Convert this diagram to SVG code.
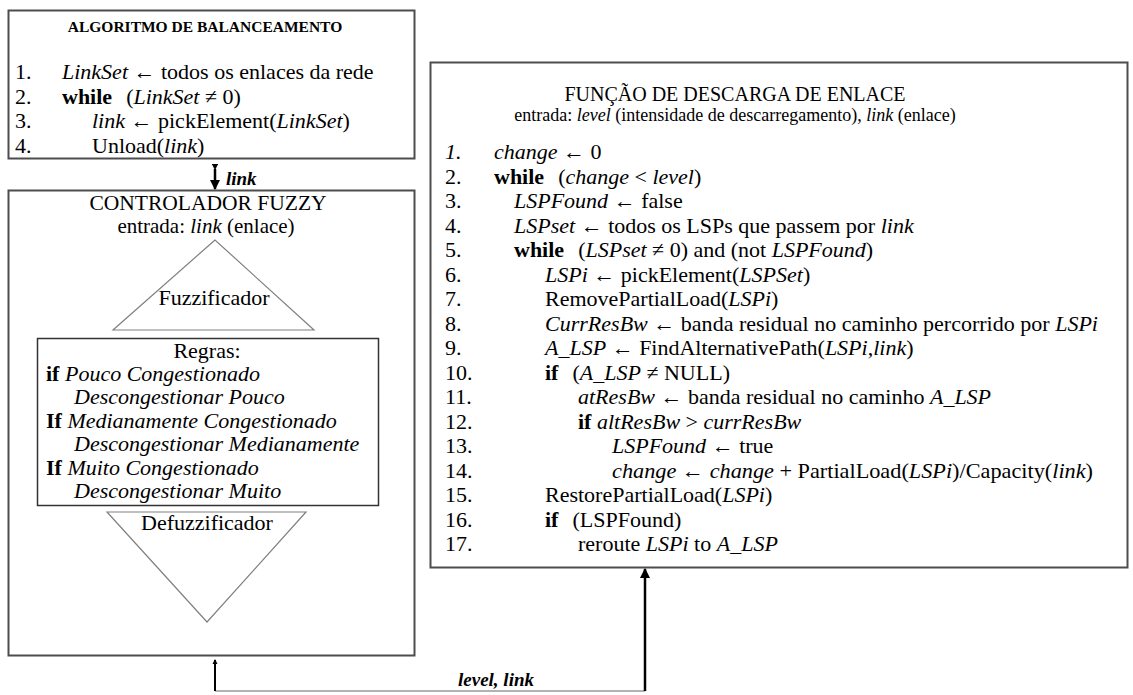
<svg xmlns="http://www.w3.org/2000/svg" width="1133" height="695" viewBox="0 0 1133 695" font-family="'Liberation Serif', 'Times New Roman', serif">
<style>
text{font-family:"Liberation Serif","Times New Roman",serif;font-size:22px;fill:#000}
.i{font-style:italic}
.b{font-weight:bold}
.m{text-anchor:middle}
.box{fill:#fff;stroke:#4d4d4d;stroke-width:2}
.tri{fill:none;stroke:#808080;stroke-width:1.2}
.conn{stroke:#000;stroke-width:2.5;fill:none}
.thin{stroke:#999;stroke-width:1.3;fill:none}
</style>
<defs>
<marker id="ah" viewBox="0 0 10 10" refX="9" refY="5" markerWidth="4.4" markerHeight="4" orient="auto" markerUnits="strokeWidth">
<path d="M0,0 L10,5 L0,10 z" fill="#000"/>
</marker>
<marker id="tip" viewBox="0 0 10 10" refX="8" refY="5" markerWidth="2.6" markerHeight="2.6" orient="auto" markerUnits="strokeWidth">
<path d="M0,0 L10,5 L0,10 z" fill="#000"/>
</marker>
</defs>
<rect width="1133" height="695" fill="#fff"/>

<g id="algoritmo">
<rect class="box" x="8.5" y="10.5" width="406" height="148"/>
<text class="b m" x="205" y="32" style="font-size:15.5px">ALGORITMO DE BALANCEAMENTO</text>
<text x="15" y="79">1.</text>
<text x="62" y="79"><tspan class="i">LinkSet</tspan> ← todos os enlaces da rede</text>
<text x="15" y="103.5">2.</text>
<text x="62" y="103.5"><tspan class="b">while</tspan><tspan dx="14">(</tspan><tspan class="i">LinkSet</tspan> ≠ 0)</text>
<text x="15" y="128">3.</text>
<text x="92" y="128"><tspan class="i">link</tspan> ← pickElement(<tspan class="i">LinkSet</tspan>)</text>
<text x="15" y="152.5">4.</text>
<text x="92" y="152.5">Unload(<tspan class="i">link</tspan>)</text>
</g>

<g id="controlador">
<rect class="box" x="8.5" y="190.5" width="406" height="465"/>
<text class="m" x="208" y="210" style="font-size:21.5px">CONTROLADOR FUZZY</text>
<text class="m" x="206" y="233" style="font-size:21px">entrada: <tspan class="i">link</tspan> (enlace)</text>
<g id="fuzzificador">
<polygon class="tri" points="215,240 113,330 314,330"/>
<text class="m" x="214" y="305">Fuzzificador</text>
</g>
<g id="regras">
<rect x="37.5" y="338.5" width="341" height="167" fill="none" stroke="#333" stroke-width="1.5"/>
<text class="m" x="207" y="358">Regras:</text>
<text x="46" y="381"><tspan class="b">if</tspan> <tspan class="i">Pouco Congestionado</tspan></text>
<text class="i" x="74" y="404">Descongestionar Pouco</text>
<text x="46" y="428"><tspan class="b">If</tspan> <tspan class="i">Medianamente Congestionado</tspan></text>
<text class="i" x="74" y="451">Descongestionar Medianamente</text>
<text x="46" y="475"><tspan class="b">If</tspan> <tspan class="i">Muito Congestionado</tspan></text>
<text class="i" x="74" y="498">Descongestionar Muito</text>
</g>
<g id="defuzzificador">
<polygon class="tri" points="107,512 306,512 207,622"/>
<text class="m" x="207" y="530">Defuzzificador</text>
</g>
</g>

<g id="funcao">
<rect class="box" x="430.5" y="62.5" width="697" height="505"/>
<text class="m" x="735" y="101" style="font-size:20px">FUNÇÃO DE DESCARGA DE ENLACE</text>
<text class="m" x="735" y="121" style="font-size:18px">entrada: <tspan class="i">level</tspan> (intensidade de descarregamento), <tspan class="i">link</tspan> (enlace)</text>
<text class="i" x="445" y="159">1.</text>
<text x="494" y="159"><tspan class="i">change</tspan> ← 0</text>
<text x="445" y="183.5">2.</text>
<text x="494" y="183.5"><tspan class="b">while</tspan><tspan dx="14">(</tspan><tspan class="i">change</tspan> &lt; <tspan class="i">level</tspan>)</text>
<text x="445" y="208">3.</text>
<text x="514" y="208"><tspan class="i">LSPFound</tspan> ← false</text>
<text x="445" y="232.5">4.</text>
<text x="514" y="232.5"><tspan class="i">LSPset</tspan> ← todos os LSPs que passem por <tspan class="i">link</tspan></text>
<text x="445" y="257">5.</text>
<text x="514" y="257"><tspan class="b">while</tspan><tspan dx="14">(</tspan><tspan class="i">LSPset</tspan> ≠ 0) and (not <tspan class="i">LSPFound</tspan>)</text>
<text x="445" y="281.5">6.</text>
<text x="545" y="281.5"><tspan class="i">LSPi</tspan> ← pickElement(<tspan class="i">LSPSet</tspan>)</text>
<text x="445" y="306">7.</text>
<text x="545" y="306">RemovePartialLoad(<tspan class="i">LSPi</tspan>)</text>
<text x="445" y="330.5">8.</text>
<text x="545" y="330.5" textLength="553" lengthAdjust="spacingAndGlyphs"><tspan class="i">CurrResBw</tspan> ← banda residual no caminho percorrido por <tspan class="i">LSPi</tspan></text>
<text x="445" y="355">9.</text>
<text x="545" y="355"><tspan class="i">A_LSP</tspan> ← FindAlternativePath(<tspan class="i">LSPi</tspan>,<tspan class="i">link</tspan>)</text>
<text x="445" y="379.5">10.</text>
<text x="545" y="379.5"><tspan class="b">if</tspan><tspan dx="14">(</tspan><tspan class="i">A_LSP</tspan> ≠ NULL)</text>
<text x="445" y="404">11.</text>
<text x="578" y="404"><tspan class="i">atResBw</tspan> ← banda residual no caminho <tspan class="i">A_LSP</tspan></text>
<text x="445" y="428.5">12.</text>
<text x="578" y="428.5"><tspan class="b">if</tspan> <tspan class="i">altResBw</tspan> &gt; <tspan class="i">currResBw</tspan></text>
<text x="445" y="453">13.</text>
<text x="612" y="453"><tspan class="i">LSPFound</tspan> ← true</text>
<text x="445" y="477.5">14.</text>
<text x="612" y="477.5" textLength="481" lengthAdjust="spacingAndGlyphs"><tspan class="i">change</tspan> ← <tspan class="i">change</tspan> + PartialLoad(<tspan class="i">LSPi</tspan>)/Capacity(<tspan class="i">link</tspan>)</text>
<text x="445" y="502">15.</text>
<text x="545" y="502">RestorePartialLoad(<tspan class="i">LSPi</tspan>)</text>
<text x="445" y="526.5">16.</text>
<text x="545" y="526.5"><tspan class="b">if</tspan><tspan dx="14">(LSPFound)</tspan></text>
<text x="445" y="551">17.</text>
<text x="578" y="551">reroute <tspan class="i">LSPi</tspan> to <tspan class="i">A_LSP</tspan></text>
</g>

<g id="connectors">
<line class="conn" x1="215" y1="169" x2="215" y2="189" marker-start="url(#tip)" marker-end="url(#ah)"/>
<text class="b i" x="226" y="185" style="font-size:19px">link</text>
<line class="thin" x1="215" y1="691" x2="645" y2="691"/>
<line class="conn" x1="215" y1="691" x2="215" y2="660" style="stroke-width:2" marker-end="url(#tip)"/>
<line class="conn" x1="645" y1="691" x2="645" y2="569" marker-end="url(#ah)"/>
<text class="b i m" x="496" y="686" style="font-size:19px">level, link</text>
</g>
</svg>
